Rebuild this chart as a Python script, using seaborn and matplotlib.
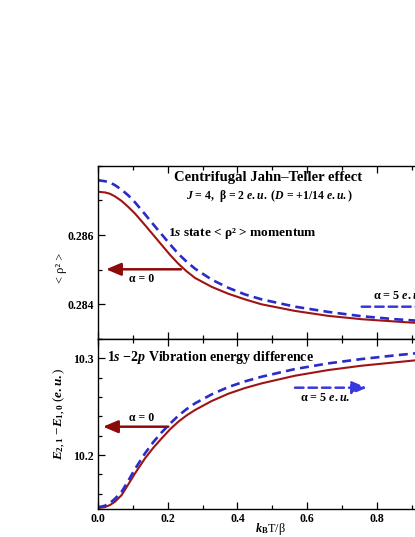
import numpy as np
import pandas as pd
import matplotlib
matplotlib.use("Agg")
import matplotlib.pyplot as plt
import seaborn as sns
from matplotlib.ticker import FixedLocator, MultipleLocator

# ---- data ----
kt = [0.0, 0.0201, 0.0344, 0.0488, 0.0679, 0.0870, 0.1062, 0.1349, 0.1588, 0.1827, 0.2066, 0.2305,
      0.2544, 0.2783, 0.3261, 0.3740, 0.4218, 0.4696, 0.5653, 0.6610, 0.7566, 0.8523, 0.9097, 1.0]
rho_a0 = [0.287248, 0.287229, 0.287190, 0.287114, 0.286981, 0.286810, 0.286619, 0.286286, 0.286000,
          0.285714, 0.285429, 0.285171, 0.284952, 0.284762, 0.284505, 0.284305, 0.284143, 0.284000,
          0.283810, 0.283667, 0.283571, 0.283505, 0.283467, 0.283420]
rho_a5 = [0.287581, 0.287552, 0.287514, 0.287438, 0.287305, 0.287143, 0.286943, 0.286600, 0.286305,
          0.286019, 0.285733, 0.285457, 0.285229, 0.285029, 0.284714, 0.284476, 0.284286, 0.284143,
          0.283933, 0.283781, 0.283657, 0.283571, 0.283533, 0.283480]
e_a0 = [10.14519, 10.14623, 10.14830, 10.15174, 10.15864, 10.16970, 10.18104, 10.19656, 10.20758,
        10.21724, 10.22655, 10.23447, 10.24102, 10.24654, 10.25584, 10.26342, 10.26929, 10.27412,
        10.28204, 10.28790, 10.29238, 10.29583, 10.29790, 10.30050]
e_a5 = [10.14589, 10.14760, 10.15036, 10.15484, 10.16208, 10.17345, 10.18552, 10.20173, 10.21344,
        10.22344, 10.23240, 10.24067, 10.24757, 10.25343, 10.26274, 10.27032, 10.27618, 10.28100,
        10.28893, 10.29480, 10.29928, 10.30307, 10.30514, 10.30800]

top_labels = [0.284, 0.286]
bot_labels = [10.2, 10.3]
x_labels = ["0.0", "0.2", "0.4", "0.6", "0.8", ""]

RED = "#9E1414"
BLUE = "#2B2BC8"
ARROW_RED = "#8C0A0A"
ARROW_BLUE = "#3838E0"

sns.set_style("ticks")
plt.rcParams["font.family"] = ["Liberation Serif", "DejaVu Serif"]
plt.rcParams["font.weight"] = "bold"
plt.rcParams["text.color"] = "black"
plt.rcParams["axes.labelcolor"] = "black"
plt.rcParams["xtick.color"] = "black"
plt.rcParams["ytick.color"] = "black"
plt.rcParams["mathtext.fontset"] = "custom"
plt.rcParams["mathtext.rm"] = "Liberation Serif:bold"
plt.rcParams["mathtext.it"] = "Liberation Serif:italic:bold"
plt.rcParams["mathtext.bf"] = "Liberation Serif:bold"
plt.rcParams["mathtext.cal"] = "Liberation Serif:italic"
plt.rcParams["axes.unicode_minus"] = False

fig = plt.figure(figsize=(4.15, 5.37), dpi=100)
W, H = 415.0, 537.0
x0, x1 = 98.0, 446.5
ax_top = fig.add_axes([x0 / W, (H - 339) / H, (x1 - x0) / W, (339 - 165.7) / H])
ax_bot = fig.add_axes([x0 / W, (H - 509) / H, (x1 - x0) / W, (509 - 339) / H])

n = len(kt)
df_top = pd.DataFrame({"kt": kt + kt, "val": rho_a0 + rho_a5, "alpha": ["0"] * n + ["5"] * n})
df_bot = pd.DataFrame({"kt": kt + kt, "val": e_a0 + e_a5, "alpha": ["0"] * n + ["5"] * n})

for ax, df in [(ax_top, df_top), (ax_bot, df_bot)]:
    sns.lineplot(data=df[df.alpha == "0"], x="kt", y="val", ax=ax, color=RED, lw=1.5, legend=False)
    sns.lineplot(data=df[df.alpha == "5"], x="kt", y="val", ax=ax, color=BLUE, lw=1.9,
                 linestyle=(0, (3.4, 2.0)), legend=False)
    ax.set_xlim(0, 1.0)
    ax.xaxis.set_major_locator(FixedLocator([0.0, 0.2, 0.4, 0.6, 0.8, 1.0]))
    ax.xaxis.set_minor_locator(MultipleLocator(0.1))
    ax.tick_params(which="both", direction="in", top=True, right=True, width=0.9,
                   labelsize=8.5, pad=3, colors="black")
    ax.tick_params(which="major", length=5)
    ax.tick_params(which="minor", length=3)
    for s in ax.spines.values():
        s.set_linewidth(1.0)
        s.set_color("black")

ax_top.set_ylim(0.283, 0.288)
ax_top.yaxis.set_major_locator(FixedLocator(top_labels))
ax_top.yaxis.set_minor_locator(MultipleLocator(0.001))
ax_top.set_yticklabels([f"{v:.3f}" for v in top_labels], fontweight="bold")
ax_top.tick_params(labelbottom=False)
ax_top.set_xlabel("")
ax_top.set_ylabel("< ρ² >", fontsize=9, fontweight="normal")
ax_top.yaxis.set_label_coords(-0.089, 0.41)

ax_bot.set_ylim(10.1442, 10.32)
ax_bot.yaxis.set_major_locator(FixedLocator(bot_labels))
ax_bot.yaxis.set_minor_locator(MultipleLocator(0.02))
ax_bot.set_yticklabels([f"{v:.1f}" for v in bot_labels], fontweight="bold")
ax_bot.set_xticklabels(x_labels, fontweight="bold")
ax_bot.set_xlabel(r"$k_{\mathrm{B}}$T/β", fontsize=8.8, fontweight="normal")
ax_bot.xaxis.set_label_coords((270 - x0) / (x1 - x0), -0.07)
ax_bot.set_ylabel(r"$E_{2,1}$ −$E_{1,0}$ ($e.u.$)", fontsize=9.5)
ax_bot.yaxis.set_label_coords(-0.087, 0.56)

# ---- texts ----
def fx(px):
    return (px - x0) / (x1 - x0)

def fyt(py):
    return (339 - py) / (339 - 165.7)

def fyb(py):
    return (509 - py) / 170.0

ax_top.text(fx(268), fyt(178), "Centrifugal Jahn–Teller effect", transform=ax_top.transAxes,
            ha="center", va="center", fontsize=10.5, fontweight="bold")
ax_top.text(fx(270), fyt(196),
            r"$J$ = 4,  β = 2 $e.u.$ ($\mathcal{D}$ = +1/14 $e.u.$)",
            transform=ax_top.transAxes, ha="center", va="center", fontsize=8.5, fontweight="bold")
ax_top.text(fx(168), fyt(233.3), r"1$s$ state < ρ² > momentum", transform=ax_top.transAxes,
            ha="left", va="center", fontsize=9.6, fontweight="bold")

head = "-|>,head_length=0.9,head_width=0.38"
ax_top.annotate("", xy=(fx(106), fyt(269.3)), xytext=(fx(181), fyt(269.3)),
                xycoords="axes fraction", textcoords="axes fraction",
                arrowprops=dict(arrowstyle=head, color=ARROW_RED,
                                lw=1.8, mutation_scale=10, shrinkA=0, shrinkB=0))
ax_top.text(fx(141.7), fyt(279.3), "α = 0", transform=ax_top.transAxes,
            ha="center", va="center", fontsize=8.5, fontweight="bold")
ax_top.annotate("", xy=(fx(440), fyt(306.7)), xytext=(fx(361.7), fyt(306.7)),
                xycoords="axes fraction", textcoords="axes fraction",
                arrowprops=dict(arrowstyle=head, color=ARROW_BLUE,
                                lw=1.8, ls=(0, (3.4, 2.0)), mutation_scale=10, shrinkA=0, shrinkB=0))
ax_top.text(fx(373), fyt(296), r"α = 5 $e.u.$", transform=ax_top.transAxes,
            ha="left", va="center", fontsize=8.7, fontweight="bold")

ax_bot.text(fx(106.7), fyb(357.3), r"1$s$ −2$p$ Vibration energy difference",
            transform=ax_bot.transAxes, ha="left", va="center", fontsize=10, fontweight="bold")
ax_bot.annotate("", xy=(fx(367), fyb(387.7)), xytext=(fx(295), fyb(387.7)),
                xycoords="axes fraction", textcoords="axes fraction",
                arrowprops=dict(arrowstyle=head, color=ARROW_BLUE,
                                lw=1.8, ls=(0, (3.4, 2.0)), mutation_scale=10, shrinkA=0, shrinkB=0))
ax_bot.text(fx(325), fyb(398.3), r"α = 5 $e.u.$", transform=ax_bot.transAxes,
            ha="center", va="center", fontsize=8.7, fontweight="bold")
ax_bot.annotate("", xy=(fx(103), fyb(426.7)), xytext=(fx(168.3), fyb(426.7)),
                xycoords="axes fraction", textcoords="axes fraction",
                arrowprops=dict(arrowstyle=head, color=ARROW_RED,
                                lw=1.8, mutation_scale=10, shrinkA=0, shrinkB=0))
ax_bot.text(fx(141.7), fyb(417.7), "α = 0", transform=ax_bot.transAxes,
            ha="center", va="center", fontsize=8.5, fontweight="bold")

fig.savefig("out.png", dpi=100)
